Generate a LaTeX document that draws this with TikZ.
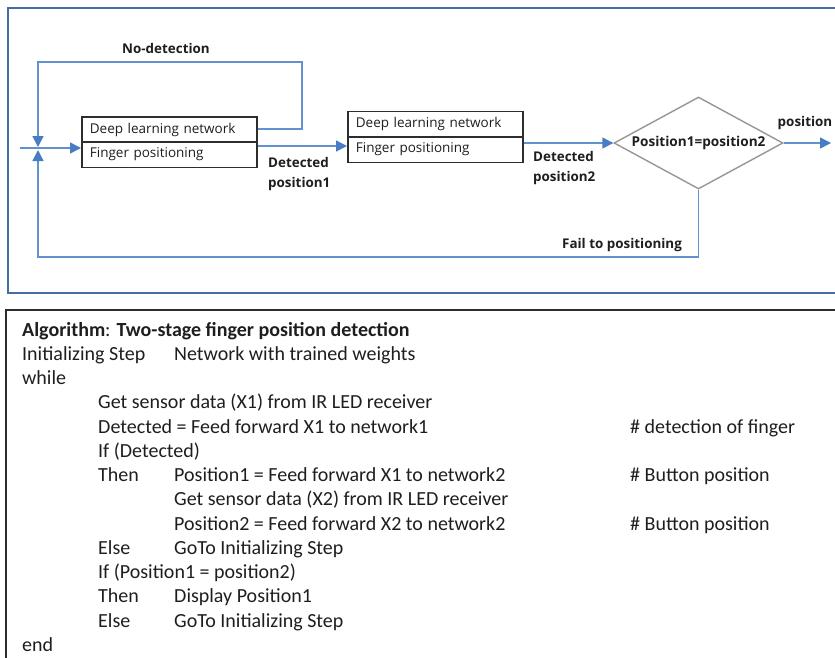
\documentclass[tikz,border=0pt]{standalone}
\usepackage{fontspec}
\setmainfont{Carlito}
\newfontfamily\diag{Open Sans}
\usetikzlibrary{arrows.meta,shapes.geometric}
\definecolor{frameblue}{RGB}{70,108,160}
\definecolor{lineblue}{RGB}{96,146,208}
\definecolor{tipblue}{RGB}{70,125,195}
\definecolor{boxgray}{RGB}{45,45,45}
\definecolor{diagray}{RGB}{150,150,150}
\definecolor{ink}{RGB}{30,30,30}
\tikzset{
  cell/.style={draw=boxgray, line width=1.8pt, rectangle, minimum width=175pt,
    minimum height=25.5pt, inner sep=0pt, anchor=north west, text=ink,
    font=\diag\fontsize{13.5}{15}\selectfont, text width=159pt, align=left},
  flow/.style={draw=lineblue, line width=1.5pt},
  flowarr/.style={flow, -{Triangle[length=11pt,width=11pt,fill=tipblue,color=tipblue]}},
  lbl/.style={text=ink, font=\diag\bfseries\fontsize{13.4}{20.5}\selectfont, inner sep=0pt},
  algo/.style={anchor=base west, inner sep=0pt, text=ink, font=\fontsize{20}{24}\selectfont},
}
\begin{document}
\begin{tikzpicture}[x=1pt,y=-1pt]
\useasboundingbox (0,0) rectangle (835,657);

% frames
\draw[frameblue, line width=2.5pt] (845,8) -- (8,8) -- (8,293) -- (845,293);
\draw[boxgray, line width=1.8pt] (845,310) -- (6,310) -- (6,667);

% network blocks
\node[cell] (b1a) at (81,116) {\raisebox{-5pt}{Deep learning network}};
\node[cell] (b1b) at (81,141) {\raisebox{-3pt}{Finger positioning}};
\node[cell] (b2a) at (347,110.5) {\raisebox{-5pt}{Deep learning network}};
\node[cell] (b2b) at (347,136) {\raisebox{-3pt}{Finger positioning}};

% decision
\node[diamond, aspect=1.837, draw=diagray, line width=1.4pt, minimum width=169pt, minimum height=92pt,
  inner sep=0pt, text=ink, font=\diag\bfseries\fontsize{13.6}{15}\selectfont]
  (dec) at (698.5,143) {\raisebox{-2pt}{Position1=position2}};

% junction and loop points
\coordinate (in) at (20,148);
\coordinate (jtop) at (38,147);
\coordinate (jbot) at (38,150);
\coordinate (ndR) at (302,129);
\coordinate (ndRT) at (302,62);
\coordinate (ndL) at (38,62);
\coordinate (fail) at (698.5,257);
\coordinate (failL) at (38,257);
\coordinate (out) at (831,143);

% connectors
\draw[flowarr] (in) -- (in -| b1b.west);
\draw[flowarr] (b1a.east |- ndR) -- (ndR) -- (ndRT) -- (ndL) -- (jtop);
\draw[flowarr] (b1b.east |- 0,146) -- (b2b.west |- 0,146);
\draw[flowarr] (b2b.east |- dec.west) -- (dec.west);
\draw[flowarr] (dec.east) -- (out);
\draw[flowarr] (dec.south) -- (fail) -- (failL) -- (jbot);

% labels
\node[lbl] (lnd) at (166,48) {No-detection};
\node[lbl, anchor=north west, align=left] (ld1) at (268,157) {Detected\\position1};
\node[lbl, anchor=north west, align=left] (ld2) at (533,151) {Detected\\position2};
\node[lbl] (lpos) at (805,123) {position};
\node[lbl] (lfail) at (622,245) {Fail to positioning};

% algorithm listing
\node[algo] (a1) at (22,336) {\textbf{Algorithm}: \textbf{Two-stage finger position detection}};
\node[algo] (a2) at (22,360.25) {Initializing Step};
\node[algo] (a2b) at (174,360.25) {Network with trained weights};
\node[algo] (a3) at (22,384.5) {while};
\node[algo] (a4) at (98,408.75) {Get sensor data (X1) from IR LED receiver};
\node[algo] (a5) at (98,433) {Detected = Feed forward X1 to network1};
\node[algo] (a5c) at (630,433) {\# detection of finger};
\node[algo] (a6) at (98,457.25) {If (Detected)};
\node[algo] (a7) at (98,481.5) {Then};
\node[algo] (a7b) at (174,481.5) {Position1 = Feed forward X1 to network2};
\node[algo] (a7c) at (630,481.5) {\# Button position};
\node[algo] (a8) at (174,505.75) {Get sensor data (X2) from IR LED receiver};
\node[algo] (a9) at (174,530) {Position2 = Feed forward X2 to network2};
\node[algo] (a9c) at (630,530) {\# Button position};
\node[algo] (a10) at (98,554.25) {Else};
\node[algo] (a10b) at (174,554.25) {GoTo Initializing Step};
\node[algo] (a11) at (98,578.5) {If (Position1 = position2)};
\node[algo] (a12) at (98,602.75) {Then};
\node[algo] (a12b) at (174,602.75) {Display Position1};
\node[algo] (a13) at (98,627) {Else};
\node[algo] (a13b) at (174,627) {GoTo Initializing Step};
\node[algo] (a14) at (22,651.25) {end};
\end{tikzpicture}
\end{document}
